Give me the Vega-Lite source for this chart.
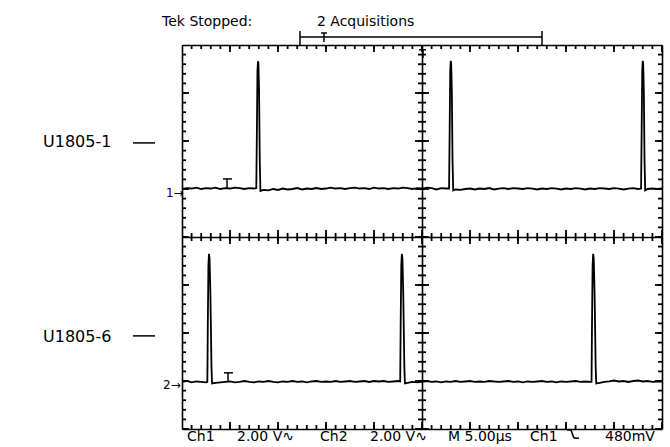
{
 "$schema": "https://vega.github.io/schema/vega-lite/v6.json",
 "width": 480,
 "height": 384,
 "autosize": {"type": "none"},
 "padding": {"left": 182, "top": 45, "right": 8, "bottom": 18},
 "background": "white",
 "config": {
  "view": {"stroke": null},
  "axis": {"labels": false, "ticks": false, "grid": false, "title": null, "domainColor": "black", "domainWidth": 1.6},
  "tick": {"opacity": 1, "color": "black", "thickness": 1.8}
 },
 "datasets": {
  "trace": [
   {"ch":"1","t":0,"v":1.00},{"ch":"1","t":0.5,"v":1.02},{"ch":"1","t":1,"v":1.01},{"ch":"1","t":1.5,"v":1.03},{"ch":"1","t":2,"v":1.00},{"ch":"1","t":2.5,"v":1.02},{"ch":"1","t":3,"v":1.01},{"ch":"1","t":3.5,"v":1.03},{"ch":"1","t":4,"v":1.00},{"ch":"1","t":4.5,"v":1.02},{"ch":"1","t":5,"v":1.01},{"ch":"1","t":5.5,"v":1.03},{"ch":"1","t":6,"v":1.02},{"ch":"1","t":6.5,"v":1.00},{"ch":"1","t":7,"v":1.02},{"ch":"1","t":7.5,"v":1.01},{"ch":"1","t":7.74,"v":1.02},
   {"ch":"1","t":7.8,"v":2.2},{"ch":"1","t":7.86,"v":3.45},{"ch":"1","t":7.91,"v":3.66},{"ch":"1","t":7.96,"v":3.62},{"ch":"1","t":8.03,"v":3.0},{"ch":"1","t":8.1,"v":1.6},{"ch":"1","t":8.17,"v":0.96},
   {"ch":"1","t":8.5,"v":0.98},{"ch":"1","t":9,"v":0.97},{"ch":"1","t":9.5,"v":1.00},{"ch":"1","t":10,"v":0.98},{"ch":"1","t":10.5,"v":1.01},{"ch":"1","t":11,"v":0.99},{"ch":"1","t":11.5,"v":1.00},{"ch":"1","t":12,"v":1.02},{"ch":"1","t":12.5,"v":0.99},{"ch":"1","t":13,"v":1.01},{"ch":"1","t":13.5,"v":1.00},{"ch":"1","t":14,"v":1.02},{"ch":"1","t":14.5,"v":1.00},{"ch":"1","t":15,"v":1.01},{"ch":"1","t":15.5,"v":1.03},{"ch":"1","t":16,"v":1.01},{"ch":"1","t":16.5,"v":1.02},{"ch":"1","t":17,"v":1.00},{"ch":"1","t":17.5,"v":1.02},{"ch":"1","t":18,"v":1.03},{"ch":"1","t":18.5,"v":1.01},{"ch":"1","t":19,"v":1.02},{"ch":"1","t":19.5,"v":1.00},{"ch":"1","t":20,"v":1.03},{"ch":"1","t":20.5,"v":1.01},{"ch":"1","t":21,"v":1.02},{"ch":"1","t":21.5,"v":1.00},{"ch":"1","t":22,"v":1.02},{"ch":"1","t":22.5,"v":1.01},{"ch":"1","t":23,"v":1.03},{"ch":"1","t":23.5,"v":1.02},{"ch":"1","t":24,"v":1.00},{"ch":"1","t":24.5,"v":1.02},{"ch":"1","t":25,"v":1.01},{"ch":"1","t":25.5,"v":1.03},{"ch":"1","t":26,"v":1.02},{"ch":"1","t":26.5,"v":0.99},{"ch":"1","t":27,"v":1.02},{"ch":"1","t":27.5,"v":1.01},{"ch":"1","t":27.82,"v":1.01},
   {"ch":"1","t":27.88,"v":2.2},{"ch":"1","t":27.94,"v":3.45},{"ch":"1","t":27.99,"v":3.67},{"ch":"1","t":28.04,"v":3.62},{"ch":"1","t":28.11,"v":3.0},{"ch":"1","t":28.18,"v":1.6},{"ch":"1","t":28.25,"v":0.97},
   {"ch":"1","t":28.5,"v":0.99},{"ch":"1","t":29,"v":0.98},{"ch":"1","t":29.5,"v":1.00},{"ch":"1","t":30,"v":1.01},{"ch":"1","t":30.5,"v":0.99},{"ch":"1","t":31,"v":1.01},{"ch":"1","t":31.5,"v":1.00},{"ch":"1","t":32,"v":1.02},{"ch":"1","t":32.5,"v":0.99},{"ch":"1","t":33,"v":1.01},{"ch":"1","t":33.5,"v":1.02},{"ch":"1","t":34,"v":1.00},{"ch":"1","t":34.5,"v":1.02},{"ch":"1","t":35,"v":1.01},{"ch":"1","t":35.5,"v":1.00},{"ch":"1","t":36,"v":1.02},{"ch":"1","t":36.5,"v":1.01},{"ch":"1","t":37,"v":0.99},{"ch":"1","t":37.5,"v":1.01},{"ch":"1","t":38,"v":1.00},{"ch":"1","t":38.5,"v":1.02},{"ch":"1","t":39,"v":1.01},{"ch":"1","t":39.5,"v":0.99},{"ch":"1","t":40,"v":1.01},{"ch":"1","t":40.5,"v":1.00},{"ch":"1","t":41,"v":1.02},{"ch":"1","t":41.5,"v":1.01},{"ch":"1","t":42,"v":0.99},{"ch":"1","t":42.5,"v":1.01},{"ch":"1","t":43,"v":1.00},{"ch":"1","t":43.5,"v":1.02},{"ch":"1","t":44,"v":1.01},{"ch":"1","t":44.5,"v":1.00},{"ch":"1","t":45,"v":1.02},{"ch":"1","t":45.5,"v":1.01},{"ch":"1","t":46,"v":0.99},{"ch":"1","t":46.5,"v":1.01},{"ch":"1","t":47,"v":1.02},{"ch":"1","t":47.5,"v":1.00},{"ch":"1","t":47.82,"v":1.01},
   {"ch":"1","t":47.88,"v":2.2},{"ch":"1","t":47.94,"v":3.45},{"ch":"1","t":47.99,"v":3.67},{"ch":"1","t":48.04,"v":3.62},{"ch":"1","t":48.11,"v":3.0},{"ch":"1","t":48.18,"v":1.6},{"ch":"1","t":48.25,"v":0.97},
   {"ch":"1","t":48.5,"v":1.00},{"ch":"1","t":49,"v":1.01},{"ch":"1","t":49.5,"v":1.00},{"ch":"1","t":50,"v":1.01},
   {"ch":"2","t":0,"v":-3.02},{"ch":"2","t":0.5,"v":-3.00},{"ch":"2","t":1,"v":-3.03},{"ch":"2","t":1.5,"v":-3.01},{"ch":"2","t":2,"v":-3.02},{"ch":"2","t":2.5,"v":-3.03},{"ch":"2","t":2.64,"v":-3.02},
   {"ch":"2","t":2.69,"v":-1.8},{"ch":"2","t":2.75,"v":-0.6},{"ch":"2","t":2.81,"v":-0.35},{"ch":"2","t":2.87,"v":-0.45},{"ch":"2","t":2.96,"v":-1.2},{"ch":"2","t":3.07,"v":-2.7},{"ch":"2","t":3.13,"v":-3.05},
   {"ch":"2","t":3.5,"v":-3.04},{"ch":"2","t":4,"v":-3.03},{"ch":"2","t":4.5,"v":-3.02},{"ch":"2","t":5,"v":-3.01},{"ch":"2","t":5.5,"v":-3.03},{"ch":"2","t":6,"v":-3.02},{"ch":"2","t":6.5,"v":-3.00},{"ch":"2","t":7,"v":-3.02},{"ch":"2","t":7.5,"v":-3.03},{"ch":"2","t":8,"v":-3.01},{"ch":"2","t":8.5,"v":-3.02},{"ch":"2","t":9,"v":-3.00},{"ch":"2","t":9.5,"v":-3.02},{"ch":"2","t":10,"v":-3.03},{"ch":"2","t":10.5,"v":-3.01},{"ch":"2","t":11,"v":-3.02},{"ch":"2","t":11.5,"v":-3.00},{"ch":"2","t":12,"v":-3.02},{"ch":"2","t":12.5,"v":-3.01},{"ch":"2","t":13,"v":-3.03},{"ch":"2","t":13.5,"v":-3.01},{"ch":"2","t":14,"v":-3.00},{"ch":"2","t":14.5,"v":-3.02},{"ch":"2","t":15,"v":-3.01},{"ch":"2","t":15.5,"v":-3.02},{"ch":"2","t":16,"v":-3.00},{"ch":"2","t":16.5,"v":-3.02},{"ch":"2","t":17,"v":-3.01},{"ch":"2","t":17.5,"v":-3.00},{"ch":"2","t":18,"v":-3.02},{"ch":"2","t":18.5,"v":-3.01},{"ch":"2","t":19,"v":-3.00},{"ch":"2","t":19.5,"v":-3.02},{"ch":"2","t":20,"v":-3.00},{"ch":"2","t":20.5,"v":-3.01},{"ch":"2","t":21,"v":-3.00},{"ch":"2","t":21.5,"v":-3.02},{"ch":"2","t":22,"v":-3.01},{"ch":"2","t":22.5,"v":-3.00},{"ch":"2","t":22.73,"v":-3.01},
   {"ch":"2","t":22.78,"v":-1.8},{"ch":"2","t":22.84,"v":-0.6},{"ch":"2","t":22.9,"v":-0.35},{"ch":"2","t":22.96,"v":-0.45},{"ch":"2","t":23.05,"v":-1.2},{"ch":"2","t":23.16,"v":-2.7},{"ch":"2","t":23.22,"v":-3.05},
   {"ch":"2","t":23.5,"v":-3.04},{"ch":"2","t":24,"v":-3.02},{"ch":"2","t":24.5,"v":-3.03},{"ch":"2","t":25,"v":-3.02},{"ch":"2","t":25.5,"v":-3.00},{"ch":"2","t":26,"v":-3.02},{"ch":"2","t":26.5,"v":-3.01},{"ch":"2","t":27,"v":-3.03},{"ch":"2","t":27.5,"v":-3.01},{"ch":"2","t":28,"v":-3.02},{"ch":"2","t":28.5,"v":-3.00},{"ch":"2","t":29,"v":-3.02},{"ch":"2","t":29.5,"v":-3.01},{"ch":"2","t":30,"v":-3.00},{"ch":"2","t":30.5,"v":-3.02},{"ch":"2","t":31,"v":-3.01},{"ch":"2","t":31.5,"v":-3.02},{"ch":"2","t":32,"v":-3.00},{"ch":"2","t":32.5,"v":-3.01},{"ch":"2","t":33,"v":-3.02},{"ch":"2","t":33.5,"v":-3.01},{"ch":"2","t":34,"v":-3.00},{"ch":"2","t":34.5,"v":-3.02},{"ch":"2","t":35,"v":-3.01},{"ch":"2","t":35.5,"v":-3.03},{"ch":"2","t":36,"v":-3.01},{"ch":"2","t":36.5,"v":-3.02},{"ch":"2","t":37,"v":-3.01},{"ch":"2","t":37.5,"v":-3.00},{"ch":"2","t":38,"v":-3.02},{"ch":"2","t":38.5,"v":-3.01},{"ch":"2","t":39,"v":-3.03},{"ch":"2","t":39.5,"v":-3.01},{"ch":"2","t":40,"v":-3.02},{"ch":"2","t":40.5,"v":-3.01},{"ch":"2","t":41,"v":-3.00},{"ch":"2","t":41.5,"v":-3.02},{"ch":"2","t":42,"v":-3.01},{"ch":"2","t":42.5,"v":-3.02},{"ch":"2","t":42.66,"v":-3.02},
   {"ch":"2","t":42.71,"v":-1.8},{"ch":"2","t":42.77,"v":-0.6},{"ch":"2","t":42.83,"v":-0.35},{"ch":"2","t":42.89,"v":-0.45},{"ch":"2","t":42.98,"v":-1.2},{"ch":"2","t":43.09,"v":-2.7},{"ch":"2","t":43.15,"v":-3.05},
   {"ch":"2","t":43.5,"v":-3.04},{"ch":"2","t":44,"v":-3.02},{"ch":"2","t":44.5,"v":-3.01},{"ch":"2","t":45,"v":-2.99},{"ch":"2","t":45.5,"v":-3.01},{"ch":"2","t":46,"v":-3.00},{"ch":"2","t":46.5,"v":-3.02},{"ch":"2","t":47,"v":-3.00},{"ch":"2","t":47.5,"v":-2.99},{"ch":"2","t":48,"v":-3.01},{"ch":"2","t":48.5,"v":-3.00},{"ch":"2","t":49,"v":-3.02},{"ch":"2","t":49.5,"v":-3.01},{"ch":"2","t":50,"v":-3.01}
  ],
  "xMinor": [{"t":0},{"t":1},{"t":2},{"t":3},{"t":4},{"t":5},{"t":6},{"t":7},{"t":8},{"t":9},{"t":10},{"t":11},{"t":12},{"t":13},{"t":14},{"t":15},{"t":16},{"t":17},{"t":18},{"t":19},{"t":20},{"t":21},{"t":22},{"t":23},{"t":24},{"t":25},{"t":26},{"t":27},{"t":28},{"t":29},{"t":30},{"t":31},{"t":32},{"t":33},{"t":34},{"t":35},{"t":36},{"t":37},{"t":38},{"t":39},{"t":40},{"t":41},{"t":42},{"t":43},{"t":44},{"t":45},{"t":46},{"t":47},{"t":48},{"t":49},{"t":50}],
  "xMajor": [{"t":0},{"t":5},{"t":10},{"t":15},{"t":20},{"t":25},{"t":30},{"t":35},{"t":40},{"t":45},{"t":50}],
  "yMinor": [{"v":-4},{"v":-3.8},{"v":-3.6},{"v":-3.4},{"v":-3.2},{"v":-3},{"v":-2.8},{"v":-2.6},{"v":-2.4},{"v":-2.2},{"v":-2},{"v":-1.8},{"v":-1.6},{"v":-1.4},{"v":-1.2},{"v":-1},{"v":-0.8},{"v":-0.6},{"v":-0.4},{"v":-0.2},{"v":0},{"v":0.2},{"v":0.4},{"v":0.6},{"v":0.8},{"v":1},{"v":1.2},{"v":1.4},{"v":1.6},{"v":1.8},{"v":2},{"v":2.2},{"v":2.4},{"v":2.6},{"v":2.8},{"v":3},{"v":3.2},{"v":3.4},{"v":3.6},{"v":3.8},{"v":4}],
  "yMajor": [{"v":-4},{"v":-3},{"v":-2},{"v":-1},{"v":0},{"v":1},{"v":2},{"v":3},{"v":4}],
  "segs": [
   {"t1":4.69,"t2":4.69,"v1":1.02,"v2":1.21},
   {"t1":4.27,"t2":5.21,"v1":1.21,"v2":1.21},
   {"t1":4.79,"t2":4.79,"v1":-3.02,"v2":-2.83},
   {"t1":4.375,"t2":5.31,"v1":-2.83,"v2":-2.83},
   {"t1":12.29,"t2":37.5,"v1":4.167,"v2":4.167},
   {"t1":12.29,"t2":12.29,"v1":3.98,"v2":4.29},
   {"t1":37.5,"t2":37.5,"v1":3.98,"v2":4.29},
   {"t1":14.79,"t2":14.79,"v1":4.06,"v2":4.25},
   {"t1":14.48,"t2":15.1,"v1":4.25,"v2":4.25},
   {"t1":25.1,"t2":25.1,"v1":3.73,"v2":3.9},
   {"t1":24.69,"t2":25.42,"v1":3.9,"v2":3.9},
   {"t1":-5.1,"t2":-2.81,"v1":1.96,"v2":1.96},
   {"t1":-5.1,"t2":-2.81,"v1":-2.06,"v2":-2.06},
   {"t1":40.1,"t2":40.52,"v1":-4.02,"v2":-4.02},
   {"t1":40.52,"t2":40.83,"v1":-4.02,"v2":-4.19},
   {"t1":40.83,"t2":41.35,"v1":-4.19,"v2":-4.19}
  ],
  "textBig": [
   {"label":"U1805-1","t":-14.48,"v":1.98},
   {"label":"U1805-6","t":-14.48,"v":-2.08}
  ],
  "textMid": [
   {"label":"Tek Stopped:","t":-2.08,"v":4.48},
   {"label":"2 Acquisitions","t":14.06,"v":4.48},
   {"label":"Ch1","t":0.52,"v":-4.17},
   {"label":"2.00 V∿","t":5.73,"v":-4.17},
   {"label":"Ch2","t":14.375,"v":-4.17},
   {"label":"2.00 V∿","t":19.58,"v":-4.17},
   {"label":"M 5.00µs","t":27.71,"v":-4.17},
   {"label":"Ch1","t":36.25,"v":-4.17},
   {"label":"480mV","t":44.06,"v":-4.17}
  ],
  "textSmall": [
   {"label":"1→","t":-1.67,"v":0.92},
   {"label":"2→","t":-1.98,"v":-3.08}
  ]
 },
 "resolve": {"axis": {"x": "independent", "y": "independent"}},
 "layer": [
  {
   "data": {"name": "trace"},
   "mark": {"type": "line", "stroke": "black", "strokeWidth": 1.8},
   "encoding": {
    "x": {"field": "t", "type": "quantitative", "scale": {"domain": [0, 50], "nice": false, "zero": false}, "axis": {"orient": "bottom", "labels": false, "ticks": false, "title": null, "grid": false}},
    "y": {"field": "v", "type": "quantitative", "scale": {"domain": [-4, 4], "nice": false, "zero": false}, "axis": {"orient": "left", "labels": false, "ticks": false, "title": null, "grid": false}},
    "detail": {"field": "ch", "type": "nominal"}
   }
  },
  {
   "data": {"name": "segs"},
   "mark": {"type": "rule", "stroke": "black", "strokeWidth": 1.5},
   "encoding": {
    "x": {"field": "t1", "type": "quantitative", "scale": {"domain": [0, 50], "nice": false, "zero": false}, "axis": {"orient": "top", "labels": false, "ticks": false, "title": null, "grid": false}},
    "x2": {"field": "t2"},
    "y": {"field": "v1", "type": "quantitative", "scale": {"domain": [-4, 4], "nice": false, "zero": false}, "axis": {"orient": "right", "labels": false, "ticks": false, "title": null, "grid": false}},
    "y2": {"field": "v2"}
   }
  },
  {
   "data": {"name": "textBig"},
   "mark": {"type": "text", "font": "DejaVu Sans", "fontSize": 16, "align": "left", "baseline": "middle", "color": "black"},
   "encoding": {
    "x": {"field": "t", "type": "quantitative", "scale": {"domain": [0, 50], "nice": false, "zero": false}, "axis": {"orient": "bottom", "offset": -192, "labels": false, "ticks": false, "title": null, "grid": false}},
    "y": {"field": "v", "type": "quantitative", "scale": {"domain": [-4, 4], "nice": false, "zero": false}, "axis": {"orient": "left", "offset": -240, "labels": false, "ticks": false, "title": null, "grid": false}},
    "text": {"field": "label"}
   }
  },
  {
   "data": {"name": "textMid"},
   "mark": {"type": "text", "font": "DejaVu Sans", "fontSize": 14, "align": "left", "baseline": "middle", "color": "black"},
   "encoding": {
    "x": {"field": "t", "type": "quantitative", "scale": {"domain": [0, 50], "nice": false, "zero": false}, "axis": null},
    "y": {"field": "v", "type": "quantitative", "scale": {"domain": [-4, 4], "nice": false, "zero": false}, "axis": null},
    "text": {"field": "label"}
   }
  },
  {
   "data": {"name": "textSmall"},
   "mark": {"type": "text", "font": "DejaVu Sans", "fontSize": 12, "align": "left", "baseline": "middle", "color": "black"},
   "encoding": {
    "x": {"field": "t", "type": "quantitative", "scale": {"domain": [0, 50], "nice": false, "zero": false}, "axis": null},
    "y": {"field": "v", "type": "quantitative", "scale": {"domain": [-4, 4], "nice": false, "zero": false}, "axis": null},
    "text": {"field": "label"}
   }
  },
  {"data": {"name": "xMinor"}, "mark": {"type": "tick", "orient": "vertical", "size": 8, "clip": true},
   "encoding": {"x": {"field": "t", "type": "quantitative", "scale": {"domain": [0, 50], "nice": false, "zero": false}, "axis": null}, "y": {"datum": 4, "type": "quantitative", "scale": {"domain": [-4, 4], "nice": false, "zero": false}, "axis": null}}},
  {"data": {"name": "xMinor"}, "mark": {"type": "tick", "orient": "vertical", "size": 8, "clip": true},
   "encoding": {"x": {"field": "t", "type": "quantitative", "scale": {"domain": [0, 50], "nice": false, "zero": false}, "axis": null}, "y": {"datum": -4, "type": "quantitative", "scale": {"domain": [-4, 4], "nice": false, "zero": false}, "axis": null}}},
  {"data": {"name": "xMinor"}, "mark": {"type": "tick", "orient": "vertical", "size": 8, "clip": true},
   "encoding": {"x": {"field": "t", "type": "quantitative", "scale": {"domain": [0, 50], "nice": false, "zero": false}, "axis": null}, "y": {"datum": 0, "type": "quantitative", "scale": {"domain": [-4, 4], "nice": false, "zero": false}, "axis": null}}},
  {"data": {"name": "xMajor"}, "mark": {"type": "tick", "orient": "vertical", "size": 14, "clip": true},
   "encoding": {"x": {"field": "t", "type": "quantitative", "scale": {"domain": [0, 50], "nice": false, "zero": false}, "axis": null}, "y": {"datum": 4, "type": "quantitative", "scale": {"domain": [-4, 4], "nice": false, "zero": false}, "axis": null}}},
  {"data": {"name": "xMajor"}, "mark": {"type": "tick", "orient": "vertical", "size": 14, "clip": true},
   "encoding": {"x": {"field": "t", "type": "quantitative", "scale": {"domain": [0, 50], "nice": false, "zero": false}, "axis": null}, "y": {"datum": -4, "type": "quantitative", "scale": {"domain": [-4, 4], "nice": false, "zero": false}, "axis": null}}},
  {"data": {"name": "xMajor"}, "mark": {"type": "tick", "orient": "vertical", "size": 14, "clip": true},
   "encoding": {"x": {"field": "t", "type": "quantitative", "scale": {"domain": [0, 50], "nice": false, "zero": false}, "axis": null}, "y": {"datum": 0, "type": "quantitative", "scale": {"domain": [-4, 4], "nice": false, "zero": false}, "axis": null}}},
  {"data": {"name": "yMinor"}, "mark": {"type": "tick", "orient": "horizontal", "size": 8, "clip": true},
   "encoding": {"y": {"field": "v", "type": "quantitative", "scale": {"domain": [-4, 4], "nice": false, "zero": false}, "axis": null}, "x": {"datum": 0, "type": "quantitative", "scale": {"domain": [0, 50], "nice": false, "zero": false}, "axis": null}}},
  {"data": {"name": "yMinor"}, "mark": {"type": "tick", "orient": "horizontal", "size": 8, "clip": true},
   "encoding": {"y": {"field": "v", "type": "quantitative", "scale": {"domain": [-4, 4], "nice": false, "zero": false}, "axis": null}, "x": {"datum": 50, "type": "quantitative", "scale": {"domain": [0, 50], "nice": false, "zero": false}, "axis": null}}},
  {"data": {"name": "yMinor"}, "mark": {"type": "tick", "orient": "horizontal", "size": 8, "clip": true},
   "encoding": {"y": {"field": "v", "type": "quantitative", "scale": {"domain": [-4, 4], "nice": false, "zero": false}, "axis": null}, "x": {"datum": 25, "type": "quantitative", "scale": {"domain": [0, 50], "nice": false, "zero": false}, "axis": null}}},
  {"data": {"name": "yMajor"}, "mark": {"type": "tick", "orient": "horizontal", "size": 14, "clip": true},
   "encoding": {"y": {"field": "v", "type": "quantitative", "scale": {"domain": [-4, 4], "nice": false, "zero": false}, "axis": null}, "x": {"datum": 0, "type": "quantitative", "scale": {"domain": [0, 50], "nice": false, "zero": false}, "axis": null}}},
  {"data": {"name": "yMajor"}, "mark": {"type": "tick", "orient": "horizontal", "size": 14, "clip": true},
   "encoding": {"y": {"field": "v", "type": "quantitative", "scale": {"domain": [-4, 4], "nice": false, "zero": false}, "axis": null}, "x": {"datum": 50, "type": "quantitative", "scale": {"domain": [0, 50], "nice": false, "zero": false}, "axis": null}}},
  {"data": {"name": "yMajor"}, "mark": {"type": "tick", "orient": "horizontal", "size": 14, "clip": true},
   "encoding": {"y": {"field": "v", "type": "quantitative", "scale": {"domain": [-4, 4], "nice": false, "zero": false}, "axis": null}, "x": {"datum": 25, "type": "quantitative", "scale": {"domain": [0, 50], "nice": false, "zero": false}, "axis": null}}}
 ]
}
